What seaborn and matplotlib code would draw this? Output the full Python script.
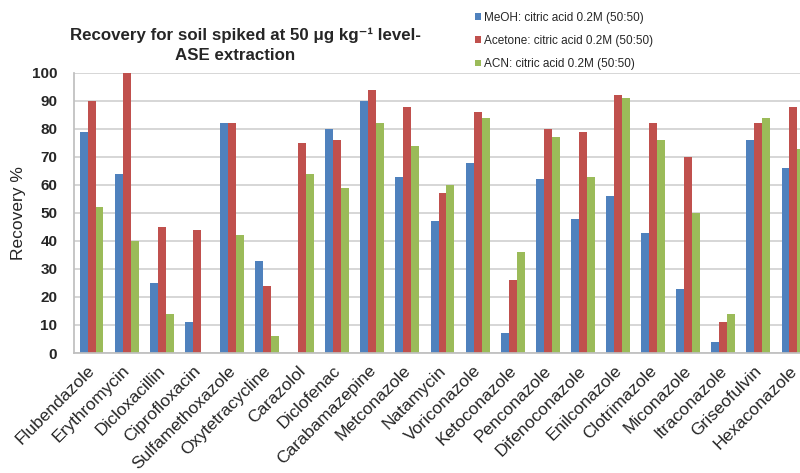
import matplotlib
matplotlib.use("Agg")
import matplotlib.pyplot as plt
import matplotlib.transforms as mtransforms
import seaborn as sns
import pandas as pd

categories = ["Flubendazole", "Erythromycin", "Dicloxacillin", "Ciprofloxacin",
              "Sulfamethoxazole", "Oxytetracycline", "Carazolol", "Diclofenac",
              "Carabamazepine", "Metconazole", "Natamycin", "Voriconazole",
              "Ketoconazole", "Penconazole", "Difenoconazole", "Enilconazole",
              "Clotrimazole", "Miconazole", "Itraconazole", "Griseofulvin",
              "Hexaconazole"]
series = ["MeOH: citric acid 0.2M (50:50)",
          "Acetone: citric acid 0.2M (50:50)",
          "ACN: citric acid 0.2M (50:50)"]
meoh = [79, 64, 25, 11, 82, 33, 0, 80, 90, 63, 47, 68, 7, 62, 48, 56, 43, 23, 4, 76, 66]
acetone = [90, 100, 45, 44, 82, 24, 75, 76, 94, 88, 57, 86, 26, 80, 79, 92, 82, 70, 11, 82, 88]
acn = [52, 40, 14, 0, 42, 6, 64, 59, 82, 74, 60, 84, 36, 77, 63, 91, 76, 50, 14, 84, 73]
colors = ["#4F81BD", "#C0504D", "#9BBB59"]
yticks = list(range(0, 101, 10))
title_lines = ["Recovery for soil spiked at 50 \u03bcg kg\u207b\u00b9 level-", "ASE extraction"]

rows = []
for name, vals in zip(series, [meoh, acetone, acn]):
    for c, v in zip(categories, vals):
        rows.append({"Compound": c, "Series": name, "Recovery": v})
df = pd.DataFrame(rows)

sns.set_theme(style="white")
plt.rcParams["font.family"] = ["Liberation Sans", "DejaVu Sans"]

fig = plt.figure(figsize=(8.0, 4.73), dpi=100)
ax = fig.add_axes([74 / 800, (473 - 353) / 473, (811 - 74) / 800, 280 / 473])

sns.barplot(data=df, x="Compound", y="Recovery", hue="Series", order=categories,
            hue_order=series, palette=colors, width=0.68, saturation=1,
            linewidth=0, ax=ax, legend=True)

ax.set_ylim(0, 100)
ax.set_xlim(-0.5, len(categories) - 0.5)
ax.set_yticks(yticks)
ax.set_yticklabels([str(t) for t in yticks], fontsize=11, fontweight="bold")
ax.yaxis.grid(True, color="#D0D0D0", linewidth=1.2)
ax.set_axisbelow(True)
for s in ["top", "right"]:
    ax.spines[s].set_visible(False)
ax.spines["left"].set_color("#BFBFBF")
ax.spines["bottom"].set_color("#BFBFBF")
ax.tick_params(axis="y", length=0, pad=12)
ax.set_xlabel("")
ax.set_ylabel("Recovery %", fontsize=12.5, labelpad=4)
ax.set_xticks(range(len(categories)))
ax.set_xticklabels(categories, rotation=45, ha="right", va="center",
                   rotation_mode="anchor", fontsize=12.5)
ax.tick_params(axis="x", length=0, pad=11)
shift = mtransforms.ScaledTranslation(1 / 100, 0, fig.dpi_scale_trans)
for lab in ax.get_xticklabels():
    lab.set_transform(lab.get_transform() + shift)

leg = ax.legend(loc="upper left", bbox_to_anchor=(470 / 800, 1 - 7 / 473),
                bbox_transform=fig.transFigure, frameon=False, fontsize=8.5,
                handlelength=0.5, handleheight=0.5, handletextpad=0.3,
                labelspacing=0.95, borderaxespad=0)

fig.text(245 / 800, 1 - 35 / 473, title_lines[0], ha="center", va="center",
         fontsize=12.2, fontweight="bold")
fig.text(235 / 800, 1 - 55 / 473, title_lines[1], ha="center", va="center",
         fontsize=12.2, fontweight="bold")

fig.savefig("out.png", dpi=100)
